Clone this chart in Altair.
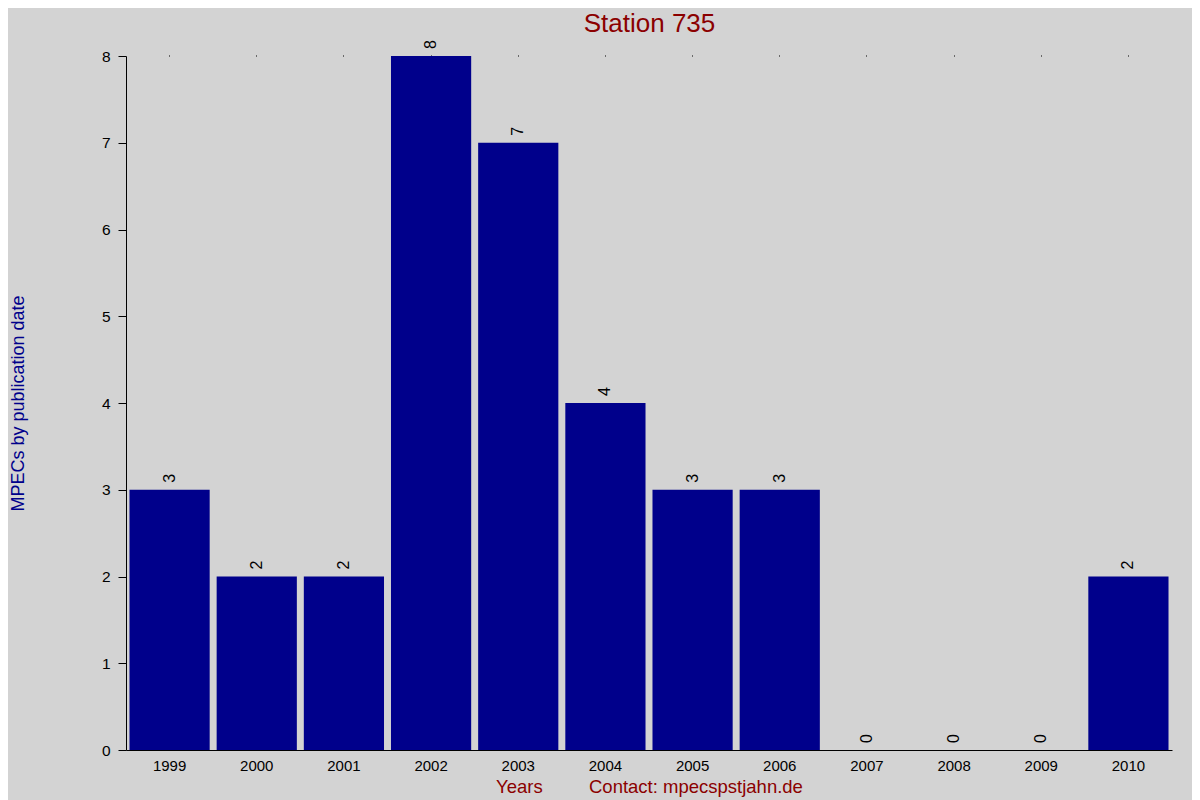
import altair as alt
import pandas as pd

years = ["1999", "2000", "2001", "2002", "2003", "2004", "2005", "2006", "2007", "2008", "2009", "2010"]
counts = [3, 2, 2, 8, 7, 4, 3, 3, 0, 0, 0, 2]

df = pd.DataFrame({"year": years, "count": counts})

FONT = "Liberation Sans"
x_title = "Years" + "\u00a0" * 9 + "Contact: mpecspstjahn.de"

xscale = alt.Scale(paddingInner=0.08, paddingOuter=0.04)
yscale = alt.Scale(domain=[0, 8], nice=False)

bars = alt.Chart(df).mark_bar(color="#00008B").encode(
    x=alt.X("year:N", sort=years, scale=xscale,
            axis=alt.Axis(title=x_title, labelAngle=0, ticks=False, domain=True,
                          domainColor="black", labelColor="black", labelFontSize=15,
                          labelFont=FONT, labelPadding=8, titleFont=FONT, titleFontSize=18.5,
                          titleFontWeight="normal", titleColor="#8B0000", titleY=42,
                          titleBaseline="alphabetic")),
    y=alt.Y("count:Q", scale=yscale,
            axis=alt.Axis(title="MPECs by publication date", values=list(range(0, 9)),
                          format="d", grid=False, tickSize=8, tickColor="black",
                          domainColor="black", labelColor="black", labelFontSize=15.5,
                          labelFont=FONT, labelPadding=8, titleFont=FONT, titleFontSize=18,
                          titleFontWeight="normal", titleColor="#00008B", titleX=-103,
                          titleY=347, titleAngle=270, titleAlign="center",
                          titleBaseline="alphabetic")),
)

labels = alt.Chart(df).mark_text(angle=270, align="left", baseline="middle", dx=7,
                                 fontSize=16, font=FONT, color="black").encode(
    x=alt.X("year:N", sort=years, scale=xscale,
            axis=alt.Axis(orient="top", labels=False, domain=False, ticks=True, tickSize=1,
                          tickColor="black", title="Station 735", titleFont=FONT,
                          titleFontSize=26, titleFontWeight="normal", titleColor="#8B0000",
                          titleY=-24.5, titleBaseline="alphabetic")),
    y=alt.Y("count:Q", scale=yscale),
    text="count:Q",
)

chart = alt.layer(bars, labels).resolve_axis(x="independent").properties(
    width=1046,
    height=694,
    background="#D3D3D3",
    autosize=alt.AutoSizeParams(type="none"),
    padding={"left": 118, "top": 48, "right": 20, "bottom": 50},
).configure_view(stroke=None)

chart.save("out.html", embed_options={"renderer": "svg", "actions": False})
